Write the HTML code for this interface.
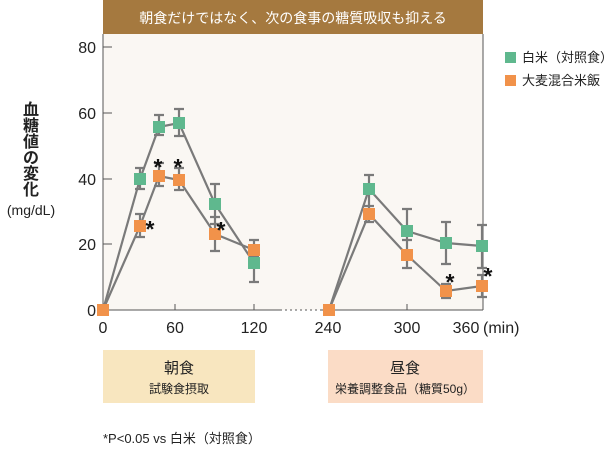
<!DOCTYPE html>
<html><head><meta charset="utf-8"><style>
body{margin:0;background:#fff;width:612px;height:449px;overflow:hidden;font-family:"Liberation Sans","Noto Sans CJK JP",sans-serif}
</style></head><body>
<svg width="612" height="449" xmlns="http://www.w3.org/2000/svg" font-family="Liberation Sans, Noto Sans CJK JP, sans-serif">
<rect x="103" y="34" width="380" height="276" fill="#faf7f3"/>
<rect x="103" y="0" width="380" height="34" fill="#a5793f"/>
<text x="293" y="23" fill="#fff" font-size="14" text-anchor="middle">朝食だけではなく、次の食事の糖質吸収も抑える</text>
<g stroke="#555" stroke-width="1">
<line x1="103" y1="34" x2="103" y2="310"/>
<line x1="103" y1="310" x2="280" y2="310"/>
<line x1="280" y1="310" x2="320" y2="310" stroke-dasharray="2,3"/>
<line x1="320" y1="310" x2="483" y2="310"/>
<line x1="483" y1="34" x2="483" y2="310"/>
<line x1="103" y1="47" x2="112" y2="47"/><line x1="103" y1="113" x2="112" y2="113"/><line x1="103" y1="179" x2="112" y2="179"/><line x1="103" y1="244" x2="112" y2="244"/>
<line x1="175" y1="310" x2="175" y2="304"/><line x1="254" y1="310" x2="254" y2="304"/><line x1="407" y1="310" x2="407" y2="304"/>
</g>
<g font-size="16" fill="#222" text-anchor="end">
<text x="96" y="53">80</text><text x="96" y="119">60</text><text x="96" y="185">40</text><text x="96" y="250">20</text><text x="96" y="316">0</text>
</g>
<g font-size="16" fill="#222" text-anchor="middle">
<text x="103" y="333">0</text><text x="175" y="333">60</text><text x="254" y="333">120</text><text x="328" y="333">240</text><text x="407" y="333">300</text><text x="466" y="333">360</text>
</g>
<text x="483" y="333" font-size="16" fill="#222">(min)</text>
<g font-size="16" fill="#222" text-anchor="middle" font-weight="bold">
<text x="31" y="115">血</text><text x="31" y="131">糖</text><text x="31" y="147">値</text><text x="31" y="163">の</text><text x="31" y="179">変</text><text x="31" y="195">化</text>
</g>
<text x="31" y="215" font-size="14" fill="#222" text-anchor="middle">(mg/dL)</text>
<g stroke="#7a7a7a" stroke-width="2.2" fill="none">
<polyline points="103,310 140,179 159,127 179,123 215,204 254,263"/>
<polyline points="103,310 140,226 159,176 179,180 215,234 254,250"/>
<polyline points="329,310 369,189 407,231 446,243 482,246"/>
<polyline points="329,310 369,214 407,255 446,291 482,286"/>
<path d="M140,168V189M135,168h10M135,189h10 M159,115V135M154,115h10M154,135h10 M179,109V136M174,109h10M174,136h10 M215,184V224M210,184h10M210,224h10 M254,240V282M249,240h10M249,282h10
M140,214V237M135,214h10M135,237h10 M159,163V186M154,163h10M154,186h10 M179,168V190M174,168h10M174,190h10 M215,217V251M210,217h10M210,251h10 M254,240V257M249,257h10
M369,175V206M364,175h10M364,206h10 M407,209V253M402,209h10M402,253h10 M446,222V264M441,222h10M441,264h10 M482,225V268M477,225h10M477,268h10
M369,206V222M364,222h10 M407,240V268M402,240h10M402,268h10 M446,284V298M441,284h10M441,298h10 M482,275V297M477,275h10M477,297h10"/>
</g>
<g fill="#5fb88e">
<rect x="134" y="173" width="12" height="12"/><rect x="153" y="121" width="12" height="12"/><rect x="173" y="117" width="12" height="12"/><rect x="209" y="198" width="12" height="12"/><rect x="248" y="257" width="12" height="12"/>
<rect x="363" y="183" width="12" height="12"/><rect x="401" y="225" width="12" height="12"/><rect x="440" y="237" width="12" height="12"/><rect x="476" y="240" width="12" height="12"/>
<rect x="505" y="52" width="11" height="11"/>
</g>
<g fill="#f1924a">
<rect x="97" y="304" width="12" height="12"/>
<rect x="134" y="220" width="12" height="12"/><rect x="153" y="170" width="12" height="12"/><rect x="173" y="174" width="12" height="12"/><rect x="209" y="228" width="12" height="12"/><rect x="248" y="244" width="12" height="12"/>
<rect x="323" y="304" width="12" height="12"/><rect x="363" y="208" width="12" height="12"/><rect x="401" y="249" width="12" height="12"/><rect x="440" y="285" width="12" height="12"/><rect x="476" y="280" width="12" height="12"/>
<rect x="505" y="75" width="11" height="11"/>
</g>
<g font-size="23" fill="#111" text-anchor="middle" font-weight="bold">
<text x="150" y="237">*</text><text x="158" y="175">*</text><text x="178" y="175">*</text><text x="221" y="238">*</text><text x="450" y="290">*</text><text x="488" y="284">*</text>
</g>
<text x="522" y="62" font-size="13" fill="#222">白米（対照食）</text>
<text x="522" y="85" font-size="13" fill="#222">大麦混合米飯</text>
<rect x="103" y="350" width="152" height="53" fill="#f8e6bf"/>
<rect x="328" y="350" width="155" height="53" fill="#fbdcc6"/>
<text x="179" y="373" font-size="15" text-anchor="middle" fill="#222">朝食</text>
<text x="179" y="393" font-size="12" text-anchor="middle" fill="#222">試験食摂取</text>
<text x="405" y="373" font-size="15" text-anchor="middle" fill="#222">昼食</text>
<text x="405" y="393" font-size="12" text-anchor="middle" fill="#222">栄養調整食品（糖質50g）</text>
<text x="103" y="443" font-size="13" fill="#222">*P&lt;0.05 vs 白米（対照食）</text>
</svg>
</body></html>
